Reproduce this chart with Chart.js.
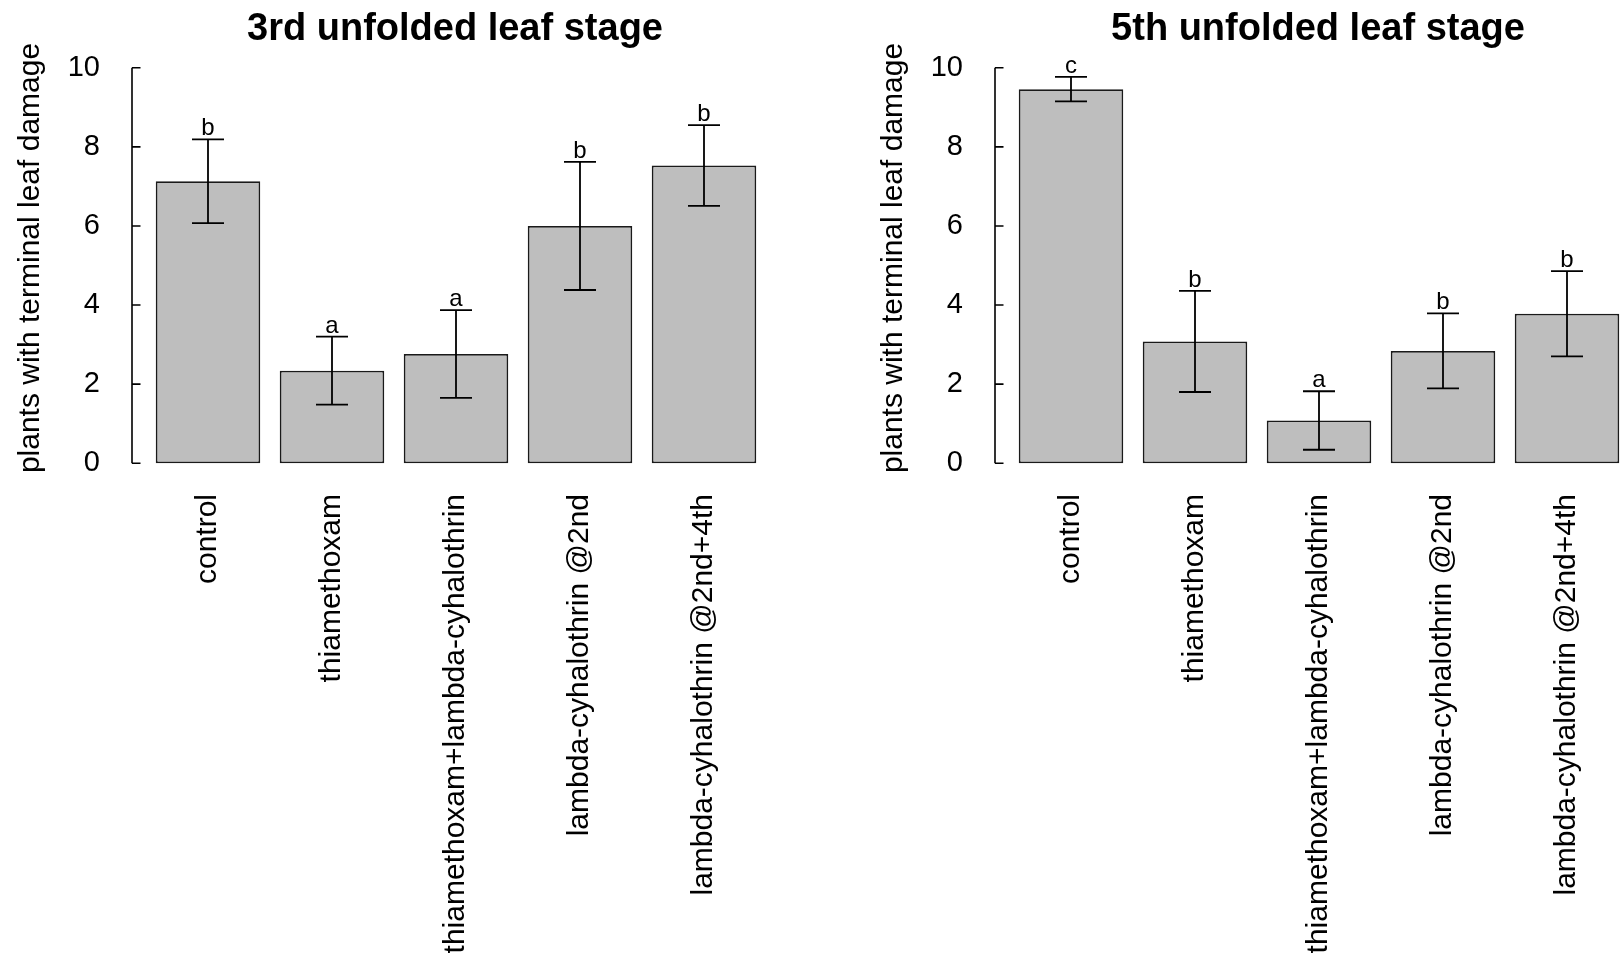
<!DOCTYPE html>
<html>
<head>
<meta charset="utf-8">
<script src="https://cdn.jsdelivr.net/npm/chart.js@4/dist/chart.umd.min.js"></script>
<style>
  html, body { margin: 0; padding: 0; background: #ffffff; overflow: hidden; }
  #wrap { position: relative; width: 1622px; height: 967px; overflow: hidden; background: #ffffff; }
  canvas { position: absolute; top: 0; }
  #left { left: 0; }
  #right { left: 863px; }
</style>
</head>
<body>
<div id="wrap">
  <canvas id="left" width="863" height="967"></canvas>
  <canvas id="right" width="863" height="967"></canvas>
</div>
<script>
// Treatments (x categories)
const categories = [
  'control',
  'thiamethoxam',
  'thiamethoxam+lambda-cyhalothrin',
  'lambda-cyhalothrin @2nd',
  'lambda-cyhalothrin @2nd+4th'
];

// 3rd unfolded leaf stage: mean, standard error, significance letters
const stage3Means   = [7.13, 2.34, 2.76, 6.00, 7.53];
const stage3Errors  = [1.06, 0.86, 1.11, 1.62, 1.02];
const stage3Letters = ['b', 'a', 'a', 'b', 'b'];

// 5th unfolded leaf stage
const stage5Means   = [9.46, 3.08, 1.08, 2.84, 3.78];
const stage5Errors  = [0.31, 1.28, 0.74, 0.95, 1.08];
const stage5Letters = ['c', 'b', 'a', 'b', 'b'];

const yTicks = [0, 2, 4, 6, 8, 10];
const panelTitles = ['3rd unfolded leaf stage', '5th unfolded leaf stage'];
const yAxisTitle = 'plants with terminal leaf damage';

const FONT = '"Liberation Sans", Arial, Helvetica, sans-serif';
const INK = '#000000';

// Axis line, error bars, letters and titles drawn on top of the bars
function decorations(title, errors, letters) {
  return {
    id: 'decorations',
    afterDatasetsDraw(chart) {
      const ctx = chart.ctx;
      const y = chart.scales.y;
      const area = chart.chartArea;
      const axisX = area.left - 14;

      ctx.save();
      ctx.strokeStyle = INK;
      ctx.lineWidth = 1.6;
      ctx.lineCap = 'butt';

      // y axis line spanning the tick range, ticks pointing inward
      const y0 = y.getPixelForValue(yTicks[0]);
      const y1 = y.getPixelForValue(yTicks[yTicks.length - 1]);
      ctx.beginPath();
      ctx.moveTo(axisX, y0);
      ctx.lineTo(axisX, y1);
      yTicks.forEach(v => {
        const py = y.getPixelForValue(v);
        ctx.moveTo(axisX, py);
        ctx.lineTo(axisX + 8.5, py);
      });
      ctx.stroke();

      // error bars with caps, letter above each cap
      const meta = chart.getDatasetMeta(0);
      const values = chart.data.datasets[0].data;
      ctx.lineWidth = 1.8;
      ctx.font = '24px ' + FONT;
      ctx.fillStyle = INK;
      ctx.textAlign = 'center';
      ctx.textBaseline = 'alphabetic';
      meta.data.forEach((bar, i) => {
        const x = bar.x;
        const hi = y.getPixelForValue(values[i] + errors[i]);
        const lo = y.getPixelForValue(values[i] - errors[i]);
        ctx.beginPath();
        ctx.moveTo(x, hi);
        ctx.lineTo(x, lo);
        ctx.moveTo(x - 16, hi);
        ctx.lineTo(x + 16, hi);
        ctx.moveTo(x - 16, lo);
        ctx.lineTo(x + 16, lo);
        ctx.stroke();
        ctx.fillText(letters[i], x, hi - 4);
      });

      // panel title
      ctx.font = 'bold 38px ' + FONT;
      ctx.textAlign = 'center';
      ctx.fillText(title, 455, 40);

      // y axis title
      ctx.font = '30px ' + FONT;
      ctx.translate(39, 258);
      ctx.rotate(-Math.PI / 2);
      ctx.textAlign = 'center';
      ctx.fillText(yAxisTitle, 0, 0);
      ctx.restore();
    }
  };
}

function makePanel(canvasId, title, means, errors, letters) {
  return new Chart(document.getElementById(canvasId), {
    type: 'bar',
    data: {
      labels: categories,
      datasets: [{
        data: means,
        backgroundColor: '#bebebe',
        borderColor: '#1a1a1a',
        borderWidth: 1.8,
        borderSkipped: false,
        barPercentage: 0.843,
        categoryPercentage: 1.0
      }]
    },
    options: {
      responsive: false,
      animation: false,
      devicePixelRatio: 1,
      layout: { padding: { top: 52, right: 97, bottom: 0, left: 0 } },
      plugins: {
        legend: { display: false },
        title: { display: false },
        tooltip: { enabled: false }
      },
      scales: {
        x: {
          type: 'category',
          offset: true,
          grid: { display: false, drawTicks: false },
          border: { display: false },
          ticks: {
            autoSkip: false,
            maxRotation: 90,
            minRotation: 90,
            padding: 15,
            color: INK,
            font: { family: FONT, size: 30 }
          },
          afterFit(scale) { scale.height = 488; }
        },
        y: {
          type: 'linear',
          min: -0.4,
          max: 10.4,
          grid: { display: false, drawTicks: false },
          border: { display: false },
          afterBuildTicks(scale) {
            scale.ticks = yTicks.map(v => ({ value: v }));
          },
          ticks: {
            padding: 46,
            color: INK,
            font: { family: FONT, size: 29 },
            callback: v => String(v)
          },
          afterFit(scale) {
            scale.width = 146;
            scale.paddingTop = 0;
            scale.paddingBottom = 0;
          }
        }
      }
    },
    plugins: [decorations(title, errors, letters)]
  });
}

makePanel('left', panelTitles[0], stage3Means, stage3Errors, stage3Letters);
makePanel('right', panelTitles[1], stage5Means, stage5Errors, stage5Letters);
</script>
</body>
</html>
